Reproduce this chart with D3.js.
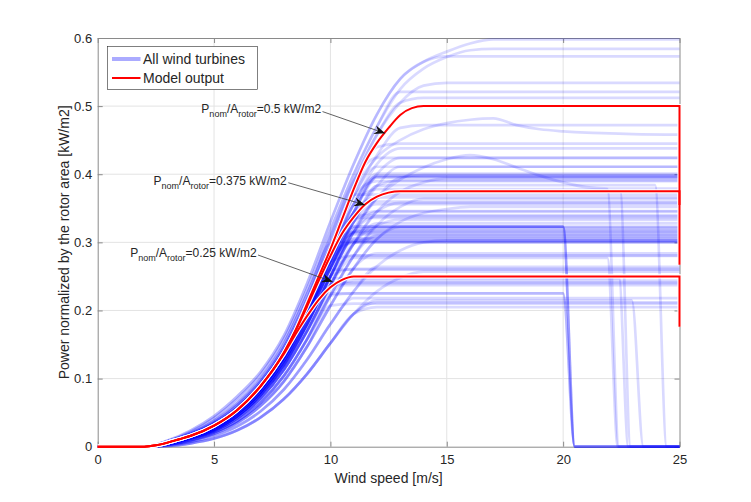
<!DOCTYPE html>
<html>
<head>
<meta charset="utf-8">
<script src="https://cdn.jsdelivr.net/npm/d3@7"></script>
<style>
    body { margin: 0; background: #fff; }
    svg text { font-family: "Liberation Sans", Arial, Helvetica, sans-serif; fill: #262626; }
</style>
</head>
<body>
<div class="chart"></div>
<script>
// wind speed grid of the measured power curves [m/s]
const windSpeeds = [0, 1, 2, 3, 4, 5, 6, 7, 8, 9, 10, 11, 12, 13, 14, 15, 16, 17, 18, 19, 20, 21, 22, 23, 24, 25];

// rising parts of the power curves, read at windSpeeds (earliest -> latest)
const riseA1 = [0, 0, 0, 0.009, 0.024, 0.045, 0.074, 0.110, 0.163, 0.240, 0.330, 0.415, 0.488, 0.540, 0.565, 0.580, 0.592, 0.600, 0.600];
const riseA2 = [0, 0, 0, 0.008, 0.022, 0.042, 0.070, 0.106, 0.158, 0.232, 0.318, 0.400, 0.470, 0.525, 0.555, 0.572, 0.582, 0.586, 0.586];
const riseB1 = [0, 0, 0, 0.008, 0.020, 0.038, 0.064, 0.100, 0.151, 0.224, 0.308, 0.390, 0.458, 0.505, 0.530, 0.545, 0.552, 0.556, 0.556];
const riseB2 = [0, 0, 0, 0.007, 0.019, 0.036, 0.061, 0.096, 0.146, 0.216, 0.298, 0.376, 0.440, 0.485, 0.510, 0.522, 0.528, 0.530, 0.530];
const riseC1 = [0, 0, 0, 0.007, 0.018, 0.034, 0.058, 0.093, 0.142, 0.211, 0.292, 0.368, 0.428, 0.468, 0.490, 0.500, 0.505, 0.508, 0.508];
const riseC2 = [0, 0, 0, 0.006, 0.016, 0.031, 0.054, 0.088, 0.136, 0.203, 0.282, 0.356, 0.415, 0.453, 0.473, 0.482, 0.486, 0.488, 0.488];
const riseD1 = [0, 0, 0, 0.006, 0.015, 0.029, 0.051, 0.084, 0.131, 0.196, 0.272, 0.344, 0.400, 0.436, 0.455, 0.463, 0.467, 0.468, 0.468];
const riseD2 = [0, 0, 0, 0.005, 0.014, 0.027, 0.048, 0.080, 0.126, 0.189, 0.262, 0.330, 0.383, 0.416, 0.433, 0.440, 0.443, 0.444, 0.444];
const riseE1 = [0, 0, 0, 0.005, 0.013, 0.025, 0.045, 0.076, 0.120, 0.180, 0.250, 0.315, 0.365, 0.395, 0.410, 0.417, 0.420, 0.420, 0.420];
const riseE2 = [0, 0, 0, 0.004, 0.012, 0.023, 0.042, 0.071, 0.113, 0.170, 0.237, 0.298, 0.345, 0.374, 0.388, 0.395, 0.398, 0.400, 0.400];
const riseF1 = [0, 0, 0, 0.003, 0.010, 0.021, 0.038, 0.065, 0.104, 0.158, 0.222, 0.280, 0.325, 0.352, 0.366, 0.372, 0.375, 0.376, 0.376];
const riseF2 = [0, 0, 0, 0.003, 0.009, 0.019, 0.035, 0.060, 0.096, 0.147, 0.207, 0.262, 0.305, 0.330, 0.343, 0.349, 0.352, 0.353, 0.353];
const riseG1 = [0, 0, 0, 0.002, 0.007, 0.016, 0.030, 0.052, 0.084, 0.128, 0.180, 0.228, 0.265, 0.288, 0.300, 0.306, 0.310, 0.312, 0.312];
const riseG2 = [0, 0, 0, 0.001, 0.005, 0.012, 0.024, 0.043, 0.070, 0.107, 0.152, 0.195, 0.228, 0.248, 0.258, 0.263, 0.266, 0.267, 0.267];
const rises = {
    A1: riseA1, A2: riseA2, B1: riseB1, B2: riseB2, C1: riseC1, C2: riseC2, D1: riseD1,
    D2: riseD2, E1: riseE1, E2: riseE2, F1: riseF1, F2: riseF2, G1: riseG1, G2: riseG2
};

// turbines: [rise, rated power per area, cut-out speed, speed where power is 0]
const turbines = [
    ["A1", 0.598, null, null], ["A2", 0.584, null, null], ["A1", 0.573, null, null], ["B1", 0.534, null, null],
    ["A2", 0.521, null, null], ["B1", 0.512, null, null], ["C1", 0.472, null, null], ["B2", 0.445, null, null],
    ["C2", 0.438, null, null], ["D1", 0.424, null, null], ["B1", 0.424, null, null], ["D2", 0.411, null, null],
    ["C1", 0.411, null, null], ["C2", 0.401, null, null], ["E1", 0.399, null, null], ["D1", 0.396, null, null],
    ["E2", 0.394, null, null], ["D2", 0.391, null, null], ["C1", 0.390, null, null], ["D1", 0.398, null, null],
    ["D1", 0.395, null, null], ["C2", 0.397, null, null],
    ["D2", 0.384, 23.95, 24.45], ["C2", 0.378, 21.9, 22.4], ["E1", 0.375, 22.45, 22.9],
    ["B2", 0.370, null, null], ["F1", 0.364, null, null], ["D1", 0.366, null, null], ["D1", 0.360, null, null],
    ["E2", 0.358, null, null], ["D2", 0.356, null, null], ["F2", 0.352, null, null], ["D2", 0.346, null, null],
    ["E1", 0.345, null, null], ["C2", 0.340, null, null], ["E1", 0.338, null, null], ["C1", 0.336, null, null],
    ["F1", 0.333, null, null], ["E2", 0.328, null, null],
    ["D1", 0.323, 20, 20.5], ["D2", 0.323, 20, 20.5], ["E1", 0.323, 20, 20.5],
    ["F2", 0.323, null, null], ["E2", 0.322, null, null], ["D1", 0.320, null, null], ["E1", 0.318, null, null],
    ["D2", 0.316, null, null], ["C1", 0.315, null, null], ["D2", 0.313, null, null], ["C2", 0.311, null, null],
    ["F1", 0.310, null, null], ["E2", 0.308, null, null], ["D1", 0.306, null, null], ["E1", 0.305, null, null],
    ["G1", 0.303, null, null], ["D2", 0.303, null, null], ["E1", 0.302, null, null], ["C2", 0.300, null, null],
    ["D1", 0.300, null, null], ["B2", 0.301, null, null],
    ["F2", 0.284, null, null], ["E1", 0.281, null, null], ["D1", 0.280, null, null],
    ["E2", 0.277, 21.9, 22.35], ["G1", 0.264, null, null], ["E1", 0.261, null, null], ["D2", 0.260, null, null],
    ["G2", 0.257, null, null], ["D1", 0.247, 22.4, 22.8], ["F1", 0.244, null, null], ["C2", 0.241, null, null],
    ["E2", 0.240, null, null], ["E1", 0.237, null, null],
    ["D2", 0.225, 20, 20.5], ["F1", 0.225, 20, 20.5],
    ["G1", 0.218, null, null], ["G2", 0.215, 22.95, 23.45], ["G2", 0.212, null, null], ["F2", 0.210, null, null],
    ["G2", 0.205, null, null]
];

// two turbines whose power drops again above rated speed
const peakedSpeeds = [0, 2, 3, 4, 5, 6, 7, 8, 9, 10, 11, 12, 13, 14, 15, 16, 17, 18, 19, 20, 21, 22, 23, 25];
const peakedHigh = [0, 0, 0.006, 0.017, 0.033, 0.057, 0.092, 0.142, 0.212, 0.295, 0.375, 0.425, 0.450, 0.466, 0.475, 0.480, 0.482, 0.472, 0.466, 0.463, 0.461, 0.460, 0.459, 0.458];
const peakedLow = [0, 0, 0.005, 0.015, 0.030, 0.052, 0.085, 0.130, 0.195, 0.265, 0.320, 0.365, 0.392, 0.410, 0.422, 0.428, 0.422, 0.410, 0.398, 0.388, 0.381, 0.379, 0.379, 0.379];

// model output for three nominal powers per rotor area
const modelSpeeds = [0, 1, 2, 2.5, 3, 3.5, 4, 5, 6, 7, 8, 8.5, 9, 9.5, 10, 10.5, 11, 11.5, 12, 12.5, 13, 13.5, 14, 15, 20, 25];
const model050 = [0, 0, 0, 0.002, 0.006, 0.011, 0.016, 0.031, 0.054, 0.089, 0.138, 0.171, 0.210, 0.250, 0.290, 0.334, 0.378, 0.418, 0.446, 0.468, 0.487, 0.497, 0.500, 0.500, 0.500, 0.500];
const model0375 = [0, 0, 0, 0.002, 0.006, 0.011, 0.016, 0.031, 0.054, 0.089, 0.138, 0.170, 0.206, 0.244, 0.280, 0.313, 0.337, 0.356, 0.367, 0.373, 0.375, 0.375, 0.375, 0.375, 0.375, 0.375];
const model025 = [0, 0, 0, 0.002, 0.006, 0.011, 0.016, 0.031, 0.054, 0.089, 0.136, 0.165, 0.192, 0.216, 0.234, 0.245, 0.250, 0.250, 0.250, 0.250, 0.250, 0.250, 0.250, 0.250, 0.250, 0.250];
const modelCutout = [0.355, 0.267, 0.176];
const modelLabels = ["0.5", "0.375", "0.25"];
// arrow tip on each model curve [v, P]
const modelArrowTips = [[12.35, 0.460], [11.49, 0.355], [10.10, 0.242]];

const xTicks = [0, 5, 10, 15, 20, 25];
const yTicks = [0, 0.1, 0.2, 0.3, 0.4, 0.5, 0.6];

const W = 751, H = 502;
const margin = { top: 38, right: 71.5, bottom: 55.3, left: 97.7 };
const width = W - margin.left - margin.right;
const height = H - margin.top - margin.bottom;

const xScale = d3.scaleLinear().domain([0, 25]).range([0, width]);
const yScale = d3.scaleLinear().domain([0, 0.6]).range([height, 0]);

const svg = d3.select(".chart").append("svg")
    .attr("width", W)
    .attr("height", H)
    .append("g")
    .attr("transform", `translate(${margin.left}, ${margin.top})`);

// grid
svg.append("g").selectAll("line").data(xTicks.slice(1, -1)).enter().append("line")
    .attr("x1", d => xScale(d)).attr("x2", d => xScale(d))
    .attr("y1", 0).attr("y2", height)
    .attr("stroke", "#e3e3e3");
svg.append("g").selectAll("line").data(yTicks.slice(1, -1)).enter().append("line")
    .attr("x1", 0).attr("x2", width)
    .attr("y1", d => yScale(d)).attr("y2", d => yScale(d))
    .attr("stroke", "#e3e3e3");

// axes (MATLAB style box, ticks inside)
const axisColor = "#8a8a8a";
const styleAxis = (g) => {
    g.select(".domain").attr("stroke", axisColor);
    g.selectAll(".tick line").attr("stroke", axisColor);
    g.selectAll(".tick text").attr("fill", "#262626").style("font-size", "13px");
};
svg.append("g")
    .attr("transform", `translate(0, ${height})`)
    .call(d3.axisBottom(xScale).tickValues(xTicks).tickSizeInner(-5).tickSizeOuter(0).tickPadding(8))
    .call(styleAxis);
svg.append("g")
    .call(d3.axisLeft(yScale).tickValues(yTicks).tickFormat(d3.format("~g")).tickSizeInner(-5).tickSizeOuter(0).tickPadding(5.5))
    .call(styleAxis);
svg.append("g")
    .call(d3.axisTop(xScale).tickValues(xTicks).tickFormat("").tickSizeInner(-5).tickSizeOuter(0))
    .call(styleAxis);
svg.append("g")
    .attr("transform", `translate(${width}, 0)`)
    .call(d3.axisRight(yScale).tickValues(yTicks).tickFormat("").tickSizeInner(-5).tickSizeOuter(0))
    .call(styleAxis);

svg.append("text")
    .attr("x", width / 2).attr("y", height + 36)
    .attr("text-anchor", "middle")
    .style("font-size", "14px")
    .text("Wind speed [m/s]");
svg.append("text")
    .attr("transform", `translate(${-29}, ${height / 2}) rotate(-90)`)
    .attr("text-anchor", "middle")
    .style("font-size", "14px")
    .text("Power normalized by the rotor area [kW/m2]");

const line = d3.line()
    .x(d => xScale(d[0]))
    .y(d => yScale(d[1]))
    .curve(d3.curveMonotoneX);

function turbinePoints(t) {
    const rise = rises[t[0]], rated = t[1], cutout = t[2], zeroAt = t[3];
    const pts = [];
    windSpeeds.forEach((v, i) => {
        if (cutout !== null && v >= cutout) return;
        pts.push([v, Math.min(rise[Math.min(i, rise.length - 1)], rated)]);
    });
    if (cutout !== null) {
        pts.push([cutout, rated], [zeroAt, 0], [25, 0]);
    }
    return pts;
}

const turbineCurves = turbines.map(turbinePoints);
turbineCurves.push(peakedSpeeds.map((v, i) => [v, peakedHigh[i]]));
turbineCurves.push(peakedSpeeds.map((v, i) => [v, peakedLow[i]]));

svg.append("g").selectAll(".turbine")
    .data(turbineCurves)
    .enter().append("path")
    .attr("class", "turbine")
    .attr("d", line)
    .attr("fill", "none")
    .attr("stroke", "#0000ff")
    .attr("stroke-opacity", 0.15)
    .attr("stroke-width", 2.7);

// model output, red with a thin white edge
const models = [model050, model0375, model025];
const modelG = svg.append("g");
models.forEach((m, k) => {
    const pts = modelSpeeds.map((v, i) => [v, m[i]]);
    const d = line(pts) + `L${xScale(25)},${yScale(modelCutout[k])}`;
    modelG.append("path").attr("d", d).attr("fill", "none")
        .attr("stroke", "#fff").attr("stroke-width", 4.2);
});
models.forEach((m, k) => {
    const pts = modelSpeeds.map((v, i) => [v, m[i]]);
    const d = line(pts) + `L${xScale(25)},${yScale(modelCutout[k])}`;
    modelG.append("path").attr("d", d).attr("fill", "none")
        .attr("stroke", "#ff0000").attr("stroke-width", 2);
});

// annotations: text end point and arrow start, in data units
const labelEnds = [[9.60, 0.4895], [8.12, 0.384], [6.83, 0.279]];
const arrowStarts = [[9.66, 0.492], [8.19, 0.3875], [6.89, 0.2814]];

modelLabels.forEach((lab, k) => {
    const t = svg.append("text")
        .attr("x", xScale(labelEnds[k][0]))
        .attr("y", yScale(labelEnds[k][1]))
        .attr("text-anchor", "end")
        .style("font-size", "12px");
    t.append("tspan").text("P");
    t.append("tspan").attr("dy", 4).style("font-size", "9px").text("nom");
    t.append("tspan").attr("dy", -4).text("/A");
    t.append("tspan").attr("dy", 4).style("font-size", "9px").text("rotor");
    t.append("tspan").attr("dy", -4).text(`=${lab} kW/m2`);

    const x0 = xScale(arrowStarts[k][0]), y0 = yScale(arrowStarts[k][1]);
    const x1 = xScale(modelArrowTips[k][0]), y1 = yScale(modelArrowTips[k][1]);
    const ang = Math.atan2(y1 - y0, x1 - x0) * 180 / Math.PI;
    svg.append("line")
        .attr("x1", x0).attr("y1", y0).attr("x2", x1).attr("y2", y1)
        .attr("stroke", "#3a3a3a").attr("stroke-width", 0.8);
    svg.append("path")
        .attr("d", "M0,0 L-11,-4.5 L-7.5,0 L-11,4.5 Z")
        .attr("transform", `translate(${x1}, ${y1}) rotate(${ang})`)
        .attr("fill", "#111");
});

// legend
const legend = svg.append("g").attr("transform", "translate(9.8, 8.5)");
legend.append("rect")
    .attr("width", 150).attr("height", 43)
    .attr("fill", "#fff").attr("stroke", "#2b2b2b").attr("stroke-width", 0.6);
const legendItems = [
    { label: "All wind turbines", color: "#0000ff", opacity: 0.33, w: 4 },
    { label: "Model output", color: "#ff0000", opacity: 1, w: 2 }
];
legendItems.forEach((item, i) => {
    const y = 12.5 + i * 19;
    legend.append("line")
        .attr("x1", 4.5).attr("x2", 33).attr("y1", y).attr("y2", y)
        .attr("stroke", item.color).attr("stroke-opacity", item.opacity)
        .attr("stroke-width", item.w);
    legend.append("text")
        .attr("x", 35.5).attr("y", y + 5)
        .style("font-size", "14px")
        .text(item.label);
});
</script>
</body>
</html>
